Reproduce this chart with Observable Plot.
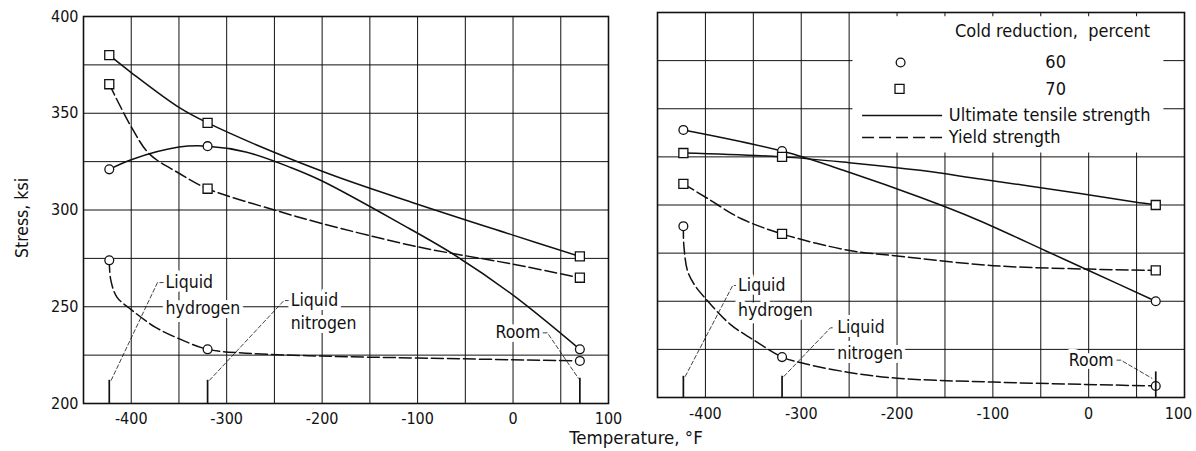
<!DOCTYPE html>
<html>
<head>
<meta charset="utf-8">
<script src="https://cdn.jsdelivr.net/npm/d3@7"></script>
<script src="https://cdn.jsdelivr.net/npm/@observablehq/plot@0.6"></script>
<style>
  body { margin: 0; background: #fff; }
  #fig { position: relative; width: 1196px; height: 451px; overflow: hidden; background: #fff;
         font-family: "DejaVu Sans Condensed", "DejaVu Sans", sans-serif; font-stretch: condensed; color: #111; }
  #fig svg { position: absolute; top: 0; overflow: visible; }
  .lab { position: absolute; font-size: 18.5px; white-space: nowrap; transform: translate(-50%, -50%); }
  .lab.rot { font-size: 17.5px; transform: translate(-50%, -50%) rotate(-90deg); }
</style>
</head>
<body>
<div id="fig"></div>
<script>
// ---------------- data ----------------
const temps = [-423, -320, 70];            // test temperatures, °F (liquid H2, liquid N2, room)
const reductions = [60, 70];               // cold reduction, percent

// left panel: measured stress, ksi (at temps)
const leftUts60 = [321, 333, 228];
const leftUts70 = [380, 345, 276];
const leftYs60  = [274, 228, 222];
const leftYs70  = [365, 311, 265];

// right panel: measured stress, ksi (at temps)
const rightUts60 = [339, 328, 250];
const rightUts70 = [327, 325, 300];
const rightYs60  = [289, 221, 206];
const rightYs70  = [311, 285, 266];

// faired curves: [temperature °F, stress ksi]
const leftUts60Curve = [[-423,321],[-400,326],[-350,332.5],[-320,333],[-280,330],[-233,322],[-200,315],[-118,293],[-62,277],[0,256],[70,228]];
const leftUts70Curve = [[-423,380],[-400,371],[-350,353],[-320,345],[-200,320],[-100,303],[0,287],[70,276]];
const leftYs60Curve  = [[-423,274],[-421.5,264],[-415,255],[-400,248.5],[-375,239.5],[-350,233.5],[-320,228],[-280,226],[-200,224.5],[-100,223.5],[70,222]];
const leftYs70Curve  = [[-423,365],[-400,343],[-381,329],[-350,319],[-320,311],[-250,300],[-200,293],[-100,281],[0,272],[70,265]];

const rightUts60Curve = [[-423,339],[-320,328],[-250,317],[-176,304],[-117,292.5],[-44,276],[0,266],[70,250]];
const rightUts70Curve = [[-423,327],[-320,325],[-250,322],[-176,318],[-113,313.5],[-9,306],[48,301.5],[70,300]];
const rightYs60Curve  = [[-423,289],[-422.5,279],[-418.5,265.5],[-411.5,258.6],[-400,251.5],[-374,238],[-350,230],[-320,221],[-300,218],[-250,213],[-200,210],[-100,208],[70,206]];
const rightYs70Curve  = [[-423,311],[-398,303.5],[-363,293],[-320,285],[-251,276.5],[-200,273.5],[-100,268.5],[0,266.7],[70,266]];

// axes
const xTicks = [-400, -300, -200, -100, 0, 100];
const yTicks = [200, 250, 300, 350, 400];
const xGrid  = [-400, -350, -300, -250, -200, -150, -100, -50, 0, 50];
const yGrid  = [225, 250, 275, 300, 325, 350, 375];

// legend entries
const legendTitle = "Cold reduction,  percent";
const legendKinds = ["Ultimate tensile strength", "Yield strength"];

// ---------------- styling / layout ----------------
const INK = "#111";
const FONT = '"DejaVu Sans Condensed", "DejaVu Sans", sans-serif';
const DASH = "12,4";

function measuredRows(uts60, uts70, ys60, ys70) {
  const rows = [];
  temps.forEach((T, i) => {
    rows.push({T, S: uts60[i], red: reductions[0]});
    rows.push({T, S: ys60[i],  red: reductions[0]});
    rows.push({T, S: uts70[i], red: reductions[1]});
    rows.push({T, S: ys70[i],  red: reductions[1]});
  });
  return rows;
}

function curve(pts, dashed) {
  return Plot.line(pts, {x: d => d[0], y: d => d[1], curve: "catmull-rom",
    stroke: INK, strokeWidth: 1.5, ...(dashed ? {strokeDasharray: DASH} : {})});
}

function labelMarks(labels) {
  const common = {x: "x", y: "y", text: "t", lineAnchor: "middle", fontSize: 17.5,
    fill: INK, stroke: "white", strokeWidth: 8};
  return [
    Plot.text(labels.filter(d => d.anchor !== "end"), {...common, textAnchor: "start"}),
    Plot.text(labels.filter(d => d.anchor === "end"), {...common, textAnchor: "end"})
  ];
}

function leaderMarks(leaders) {
  return leaders.map(pts => Plot.line(pts, {x: d => d[0], y: d => d[1], stroke: INK,
    strokeWidth: 0.8, strokeDasharray: "4,2.5"}));
}

function panel(o) {
  const rows = o.rows;
  const axisCommon = {tickSize: 0, tickPadding: o.xPad, tickFormat: d => String(d), label: null};
  return Plot.plot({
    width: o.width, height: 451,
    marginLeft: o.ml, marginRight: o.mr, marginTop: o.mt, marginBottom: o.mb,
    x: {domain: [-450, 100]},
    y: {domain: [200, 400], ...(o.showY ? {} : {axis: null})},
    style: {fontFamily: FONT, fontSize: "16px", color: INK, background: "transparent", overflow: "visible"},
    marks: [
      Plot.ruleX(xGrid, {stroke: INK, strokeWidth: 1}),
      Plot.ruleY(yGrid, {stroke: INK, strokeWidth: 1}),
      ...(o.legend ? o.legend : []),
      Plot.frame({stroke: INK, strokeWidth: 1.6}),
      Plot.axisX({...axisCommon, ticks: xTicks.slice(0, -1)}),
      Plot.axisX({...axisCommon, ticks: xTicks.slice(-1), dx: o.lastDx}),
      ...(o.showY ? [Plot.axisY({ticks: yTicks, tickSize: 0, tickPadding: 5, tickFormat: d => String(d), label: null})] : []),
      ...o.curves.map(c => curve(c[0], c[1])),
      Plot.dot(rows.filter(d => d.red === 60), {x: "T", y: "S", r: 4.4, fill: "white", stroke: INK, strokeWidth: 1.3}),
      Plot.dot(rows.filter(d => d.red === 70), {x: "T", y: "S", symbol: "square", r: 5.1, fill: "white", stroke: INK, strokeWidth: 1.3}),
      Plot.ruleX(temps, {x: d => d, y1: () => 200, y2: (d, i) => o.tickTops[i], stroke: INK, strokeWidth: 1.7}),
      ...labelMarks(o.labels),
      ...leaderMarks(o.leaders)
    ]
  });
}

// ---------- left panel ----------
const left = panel({
  width: 625, ml: 83, mr: 17, mt: 16, mb: 48, xPad: 9, showY: true, lastDx: 0,
  rows: measuredRows(leftUts60, leftUts70, leftYs60, leftYs70),
  curves: [[leftUts70Curve, false], [leftUts60Curve, false], [leftYs70Curve, true], [leftYs60Curve, true]],
  tickTops: [212, 212, 213],
  labels: [
    {t: "Liquid",   x: -364, y: 262.5},
    {t: "hydrogen", x: -364, y: 249.4},
    {t: "Liquid",   x: -233, y: 253.2},
    {t: "nitrogen", x: -233, y: 241.3},
    {t: "Room",     x: 28.5, y: 236.7, anchor: "end"}
  ],
  leaders: [
    [[-421, 212], [-372.5, 262.5], [-366.5, 262.5]],
    [[-318, 212], [-240, 253.2], [-235.5, 253.2]],
    [[31.5, 236.5], [36, 236.5], [68.5, 213]]
  ]
});

// ---------- right panel ----------
const legend = [
  Plot.rect([0], {x1: () => -246, x2: () => 100, y1: () => 327, y2: () => 400, fill: "white"}),
  Plot.ruleX([-200, -150, -100, -50, 0, 50], {x: d => d, y1: () => 400, y2: () => 397.8, stroke: INK, strokeWidth: 1}),
  Plot.ruleY([350, 375], {y: d => d, x1: () => 78.5, x2: () => 100, stroke: INK, strokeWidth: 1}),
  Plot.text([legendTitle], {x: () => -37.7, y: () => 390.1, text: d => d, fontSize: 18, fill: INK, lineAnchor: "middle"}),
  Plot.text(reductions, {x: () => -34.5, y: (d, i) => [374, 360.3][i], text: d => String(d), fontSize: 18, fill: INK, lineAnchor: "middle"}),
  Plot.dot([reductions[0]], {x: () => -196.3, y: () => 374, r: 4.4, fill: "white", stroke: INK, strokeWidth: 1.3}),
  Plot.dot([reductions[1]], {x: () => -197.4, y: () => 360.3, symbol: "square", r: 5.1, fill: "white", stroke: INK, strokeWidth: 1.3}),
  Plot.ruleY([346.5], {y: d => d, x1: () => -236, x2: () => -152.5, stroke: INK, strokeWidth: 1.5}),
  Plot.ruleY([335.1], {y: d => d, x1: () => -236, x2: () => -152.5, stroke: INK, strokeWidth: 1.5, strokeDasharray: "12,5"}),
  Plot.text(legendKinds, {x: () => -146, y: (d, i) => [346.5, 335.1][i], text: d => d, fontSize: 18, fill: INK, textAnchor: "start", lineAnchor: "middle"})
];

const right = panel({
  width: 566, ml: 27, mr: 12, mt: 12, mb: 54, xPad: 10, showY: false, lastDx: -6,
  rows: measuredRows(rightUts60, rightUts70, rightYs60, rightYs70),
  curves: [[rightUts70Curve, false], [rightUts60Curve, false], [rightYs70Curve, true], [rightYs60Curve, true]],
  tickTops: [211, 211, 213.3],
  legend,
  labels: [
    {t: "Liquid",   x: -366, y: 258.2},
    {t: "hydrogen", x: -366, y: 245.2},
    {t: "Liquid",   x: -262.5, y: 236.2},
    {t: "nitrogen", x: -262.5, y: 222.7},
    {t: "Room",     x: 26, y: 219.2, anchor: "end"}
  ],
  leaders: [
    [[-421, 211], [-371.5, 258.2], [-368.5, 258.2]],
    [[-318, 211], [-269.5, 236.2], [-265, 236.2]],
    [[29.5, 219.4], [33.5, 219.4], [66, 210]]
  ]
});

const fig = document.getElementById("fig");
left.style.left = "0px";
right.style.left = "630px";
fig.appendChild(left);
fig.appendChild(right);

const ylab = document.createElement("div");
ylab.className = "lab rot";
ylab.textContent = "Stress, ksi";
ylab.style.left = "22px"; ylab.style.top = "218px";
fig.appendChild(ylab);

const xlab = document.createElement("div");
xlab.className = "lab";
xlab.textContent = "Temperature, °F";
xlab.style.left = "636px"; xlab.style.top = "437px";
fig.appendChild(xlab);
</script>
</body>
</html>
